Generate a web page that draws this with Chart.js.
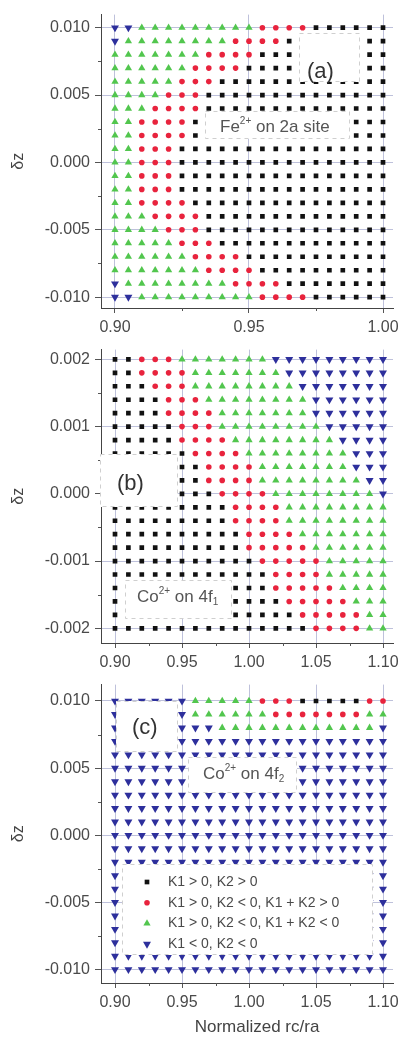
<!DOCTYPE html>
<html>
<head>
<meta charset="utf-8">
<script src="https://cdn.jsdelivr.net/npm/chart.js@4.4.0/dist/chart.umd.min.js"></script>
<style>
  body { margin: 0; background: #fff; }
  canvas { display: block; }
</style>
</head>
<body>
<canvas id="panelA" width="406" height="335"></canvas>
<canvas id="panelB" width="406" height="335"></canvas>
<canvas id="panelC" width="406" height="372"></canvas>
<script>
// ---- data ----
// row codes: k = K1>0,K2>0 ; r = K1>0,K2<0,K1+K2>0 ; g = K1>0,K2<0,K1+K2<0 ; v = K1<0,K2<0
// each row is run-length encoded, left (smallest rc/ra) to right
const categories = ['K1 > 0, K2 > 0', 'K1 > 0, K2 < 0, K1 + K2 > 0', 'K1 > 0, K2 < 0, K1 + K2 < 0', 'K1 < 0, K2 < 0'];
const catCodes = ['k', 'r', 'g', 'v'];

const xColsA = [0.900, 0.905, 0.910, 0.915, 0.920, 0.925, 0.930, 0.935, 0.940, 0.945, 0.950,
                0.955, 0.960, 0.965, 0.970, 0.975, 0.980, 0.985, 0.990, 0.995, 1.000];
const yRowsA = [0.010, 0.009, 0.008, 0.007, 0.006, 0.005, 0.004, 0.003, 0.002, 0.001, 0.000,
                -0.001, -0.002, -0.003, -0.004, -0.005, -0.006, -0.007, -0.008, -0.009, -0.010];
const gridA = [
  'v2 g9 r4 k6',
  'v1 g8 r4 k8',
  'g7 r4 k10',
  'g6 r4 k11',
  'g5 r3 k13',
  'g4 r3 k14',
  'g3 r4 k14',
  'g2 r4 k15',
  'g2 r4 k15',
  'g2 r3 k16',
  'g2 r3 k16',
  'g2 r3 k16',
  'g2 r3 k16',
  'g2 r4 k15',
  'g3 r4 k14',
  'g4 r3 k14',
  'g5 r3 k13',
  'g6 r4 k11',
  'g7 r4 k10',
  'v1 g8 r4 k8',
  'v2 g9 r4 k6'
];

const xColsBC = [0.90, 0.91, 0.92, 0.93, 0.94, 0.95, 0.96, 0.97, 0.98, 0.99, 1.00,
                 1.01, 1.02, 1.03, 1.04, 1.05, 1.06, 1.07, 1.08, 1.09, 1.10];
const yRowsB = [0.0020, 0.0018, 0.0016, 0.0014, 0.0012, 0.0010, 0.0008, 0.0006, 0.0004, 0.0002, 0.0000,
                -0.0002, -0.0004, -0.0006, -0.0008, -0.0010, -0.0012, -0.0014, -0.0016, -0.0018, -0.0020];
const gridB = [
  'k2 r3 g7 v9',
  'k2 r4 g7 v8',
  'k3 r3 g8 v7',
  'k4 r3 g8 v6',
  'k4 r4 g7 v6',
  'k5 r3 g8 v5',
  'k5 r4 g8 v4',
  'k6 r4 g8 v3',
  'k7 r4 g7 v3',
  'k7 r4 g8 v2',
  'k8 r4 g8 v1',
  'k9 r4 g8',
  'k9 r4 g8',
  'k10 r4 g7',
  'k10 r5 g6',
  'k11 r5 g5',
  'k12 r4 g5',
  'k12 r5 g4',
  'k13 r5 g3',
  'k14 r5 g2',
  'k15 r4 g2'
];

const yRowsC = [0.010, 0.009, 0.008, 0.007, 0.006, 0.005, 0.004, 0.003, 0.002, 0.001, 0.000,
                -0.001, -0.002, -0.003, -0.004, -0.005, -0.006, -0.007, -0.008, -0.009, -0.010];
const gridC = [
  'v6 g5 r3 k5 r2',
  'v6 g6 r7 g2',
  'v8 g12 v1',
  'v21', 'v21', 'v21', 'v21', 'v21', 'v21', 'v21', 'v21', 'v21',
  'v21', 'v21', 'v21', 'v21', 'v21', 'v21', 'v21', 'v21', 'v21'
];

const xTicksA = [0.90, 0.95, 1.00];
const xTickLabelsA = ['0.90', '0.95', '1.00'];
const xMinorA = [0.925, 0.975];
const xTicksBC = [0.90, 0.95, 1.00, 1.05, 1.10];
const xTickLabelsBC = ['0.90', '0.95', '1.00', '1.05', '1.10'];
const xMinorBC = [0.925, 0.975, 1.025, 1.075];
const yTicksAC = [0.010, 0.005, 0.000, -0.005, -0.010];
const yTickLabelsAC = ['0.010', '0.005', '0.000', '-0.005', '-0.010'];
const yMinorAC = [0.0075, 0.0025, -0.0025, -0.0075];
const yTicksB = [0.002, 0.001, 0.000, -0.001, -0.002];
const yTickLabelsB = ['0.002', '0.001', '0.000', '-0.001', '-0.002'];
const yMinorB = [0.0015, 0.0005, -0.0005, -0.0015];

// ---- styles ----
const FONT = '"Liberation Sans", Arial, sans-serif';
const GRID = 'rgba(110,118,175,0.45)';
const catStyle = {
  k: { color: '#111111', pointStyle: 'rect', radius: 3.3, rotation: 0 },
  r: { color: '#e8233d', pointStyle: 'circle', radius: 2.8, rotation: 0 },
  g: { color: '#52c64e', pointStyle: 'triangle', radius: 4.2, rotation: 0 },
  v: { color: '#2d2f9c', pointStyle: 'triangle', radius: 4.6, rotation: 180 }
};

function buildDatasets(xs, ys, rows) {
  return catCodes.map((code, ci) => {
    const pts = [];
    rows.forEach((row, ri) => {
      let col = 0;
      row.split(' ').forEach(run => {
        const c = run[0];
        const n = parseInt(run.slice(1), 10);
        for (let i = 0; i < n; i++) {
          if (c === code) pts.push({ x: xs[col], y: ys[ri] });
          col++;
        }
      });
    });
    const st = catStyle[code];
    return {
      label: categories[ci],
      data: pts,
      showLine: false,
      pointStyle: st.pointStyle,
      pointRadius: st.radius,
      pointHoverRadius: st.radius,
      pointRotation: st.rotation,
      backgroundColor: st.color,
      borderColor: st.color,
      borderWidth: 0
    };
  });
}

function axisX(lim, ticks, labels, h) {
  return {
    type: 'linear', min: lim[0], max: lim[1],
    afterBuildTicks: (s) => { s.ticks = ticks.map(v => ({ value: v })); },
    afterFit: (s) => { s.height = h; },
    ticks: { callback: (v, i) => labels[i], color: '#4a4a4a', font: { family: FONT, size: 16 }, padding: 5, maxRotation: 0, autoSkip: false },
    grid: { color: GRID, tickColor: '#555', tickLength: 5, lineWidth: 1 },
    border: { color: '#444', width: 1 }
  };
}

function axisY(lim, ticks, labels) {
  return {
    type: 'linear', min: lim[0], max: lim[1],
    afterBuildTicks: (s) => { s.ticks = ticks.map(v => ({ value: v })); },
    afterFit: (s) => { s.width = 101; },
    ticks: { callback: (v, i) => labels[i], color: '#4a4a4a', font: { family: FONT, size: 16 }, padding: 5, autoSkip: false },
    grid: { color: GRID, tickColor: '#555', tickLength: 6, lineWidth: 1 },
    border: { color: '#444', width: 1 }
  };
}

// text made of pieces, for super/subscripts
function drawRich(ctx, x, y, parts) {
  let cx = x;
  parts.forEach(p => {
    ctx.font = p.size + 'px ' + FONT;
    ctx.fillText(p.text, cx, y + (p.dy || 0));
    cx += ctx.measureText(p.text).width;
  });
}

function decorPlugin(spec) {
  return {
    id: 'decor',
    afterDraw(chart) {
      const ctx = chart.ctx;
      const sx = chart.scales.x, sy = chart.scales.y;
      const area = chart.chartArea;
      ctx.save();
      // minor ticks
      ctx.strokeStyle = '#555';
      ctx.lineWidth = 1;
      ctx.beginPath();
      spec.xMinor.forEach(v => {
        const px = Math.round(sx.getPixelForValue(v)) + 0.5;
        ctx.moveTo(px, area.bottom); ctx.lineTo(px, area.bottom + 3);
      });
      spec.yMinor.forEach(v => {
        const py = Math.round(sy.getPixelForValue(v)) + 0.5;
        ctx.moveTo(area.left, py); ctx.lineTo(area.left - 3, py);
      });
      ctx.stroke();
      // white label boxes with dashed edge
      spec.boxes.forEach(b => {
        ctx.fillStyle = '#fff';
        ctx.fillRect(b[0], b[1], b[2] - b[0], b[3] - b[1]);
        ctx.setLineDash([4, 4]);
        ctx.strokeStyle = '#cfcfcf';
        ctx.strokeRect(b[0] + 0.5, b[1] + 0.5, b[2] - b[0] - 1, b[3] - b[1] - 1);
        ctx.setLineDash([]);
      });
      // texts
      ctx.textBaseline = 'middle';
      ctx.textAlign = 'left';
      spec.texts.forEach(t => {
        ctx.fillStyle = t.color;
        drawRich(ctx, t.x, t.y, t.parts);
      });
      // legend
      if (spec.legend) {
        const lg = spec.legend;
        chart.data.datasets.forEach((ds, i) => {
          const y = lg.y + i * lg.step;
          ctx.fillStyle = ds.backgroundColor;
          Chart.helpers.drawPoint(ctx, { pointStyle: ds.pointStyle, radius: ds.pointRadius, rotation: ds.pointRotation, borderWidth: 0 }, lg.x, y);
          ctx.fillStyle = '#4a4a4a';
          ctx.font = '14px ' + FONT;
          ctx.fillText(ds.label, lg.x + 21, y);
        });
      }
      // y title
      ctx.fillStyle = '#444';
      ctx.font = '16px ' + FONT;
      ctx.textAlign = 'center';
      ctx.translate(19, (area.top + area.bottom) / 2);
      ctx.rotate(-Math.PI / 2);
      ctx.fillText('δz', 0, 0);
      ctx.restore();
      // x title
      if (spec.xTitle) {
        ctx.save();
        ctx.fillStyle = '#444';
        ctx.font = '17px ' + FONT;
        ctx.textAlign = 'center';
        ctx.textBaseline = 'middle';
        ctx.fillText(spec.xTitle.text, spec.xTitle.x, spec.xTitle.y);
        ctx.restore();
      }
    }
  };
}

function makeChart(id, datasets, scales, padding, spec) {
  const ctx = document.getElementById(id).getContext('2d');
  return new Chart(ctx, {
    type: 'scatter',
    data: { datasets: datasets },
    options: {
      responsive: false,
      animation: false,
      layout: { padding: padding },
      scales: scales,
      plugins: { legend: { display: false }, tooltip: { enabled: false } }
    },
    plugins: [decorPlugin(spec)]
  });
}

const labelGray = '#555';
const labelDark = '#333';

makeChart('panelA', buildDatasets(xColsA, yRowsA, gridA), {
  x: axisX([0.89478, 1.00373], xTicksA, xTickLabelsA, 27),
  y: axisY([-0.010804, 0.010972], yTicksAC, yTickLabelsAC)
}, { top: 10, right: 13, left: 0, bottom: 0 }, {
  xMinor: xMinorA, yMinor: yMinorAC,
  boxes: [[299, 33, 360, 82], [205, 111, 350, 139]],
  texts: [
    { x: 307, y: 72, color: labelDark, parts: [{ text: '(a)', size: 22 }] },
    { x: 220, y: 127, color: labelGray, parts: [{ text: 'Fe', size: 17 }, { text: '2+', size: 10, dy: -6 }, { text: ' on 2a site', size: 17 }] }
  ]
});

makeChart('panelB', buildDatasets(xColsBC, yRowsB, gridB), {
  x: axisX([0.88955, 1.10746], xTicksBC, xTickLabelsBC, 27),
  y: axisY([-0.0022182, 0.0021455], yTicksB, yTickLabelsB)
}, { top: 8, right: 13, left: 0, bottom: 0 }, {
  xMinor: xMinorBC, yMinor: yMinorB,
  boxes: [[100, 119, 178, 172], [125, 245, 232, 284]],
  texts: [
    { x: 117, y: 149, color: labelDark, parts: [{ text: '(b)', size: 22 }] },
    { x: 137, y: 262, color: labelGray, parts: [{ text: 'Co', size: 17 }, { text: '2+', size: 10, dy: -6 }, { text: ' on 4f', size: 17 }, { text: '1', size: 10, dy: 5 }] }
  ]
});

makeChart('panelC', buildDatasets(xColsBC, yRowsC, gridC), {
  x: axisX([0.88955, 1.10746], xTicksBC, xTickLabelsBC, 59),
  y: axisY([-0.011004, 0.011219], yTicksAC, yTickLabelsAC)
}, { top: 3, right: 13, left: 0, bottom: 0 }, {
  xMinor: xMinorBC, yMinor: yMinorAC,
  boxes: [[116, 31, 178, 82], [188, 87, 297, 123], [122, 194, 373, 285]],
  texts: [
    { x: 132, y: 58, color: labelDark, parts: [{ text: '(c)', size: 22 }] },
    { x: 203, y: 104, color: labelGray, parts: [{ text: 'Co', size: 17 }, { text: '2+', size: 10, dy: -6 }, { text: ' on 4f', size: 17 }, { text: '2', size: 10, dy: 5 }] }
  ],
  legend: { x: 147, y: 212, step: 20.7 },
  xTitle: { text: 'Normalized rc/ra', x: 257, y: 357 }
});
</script>
</body>
</html>
